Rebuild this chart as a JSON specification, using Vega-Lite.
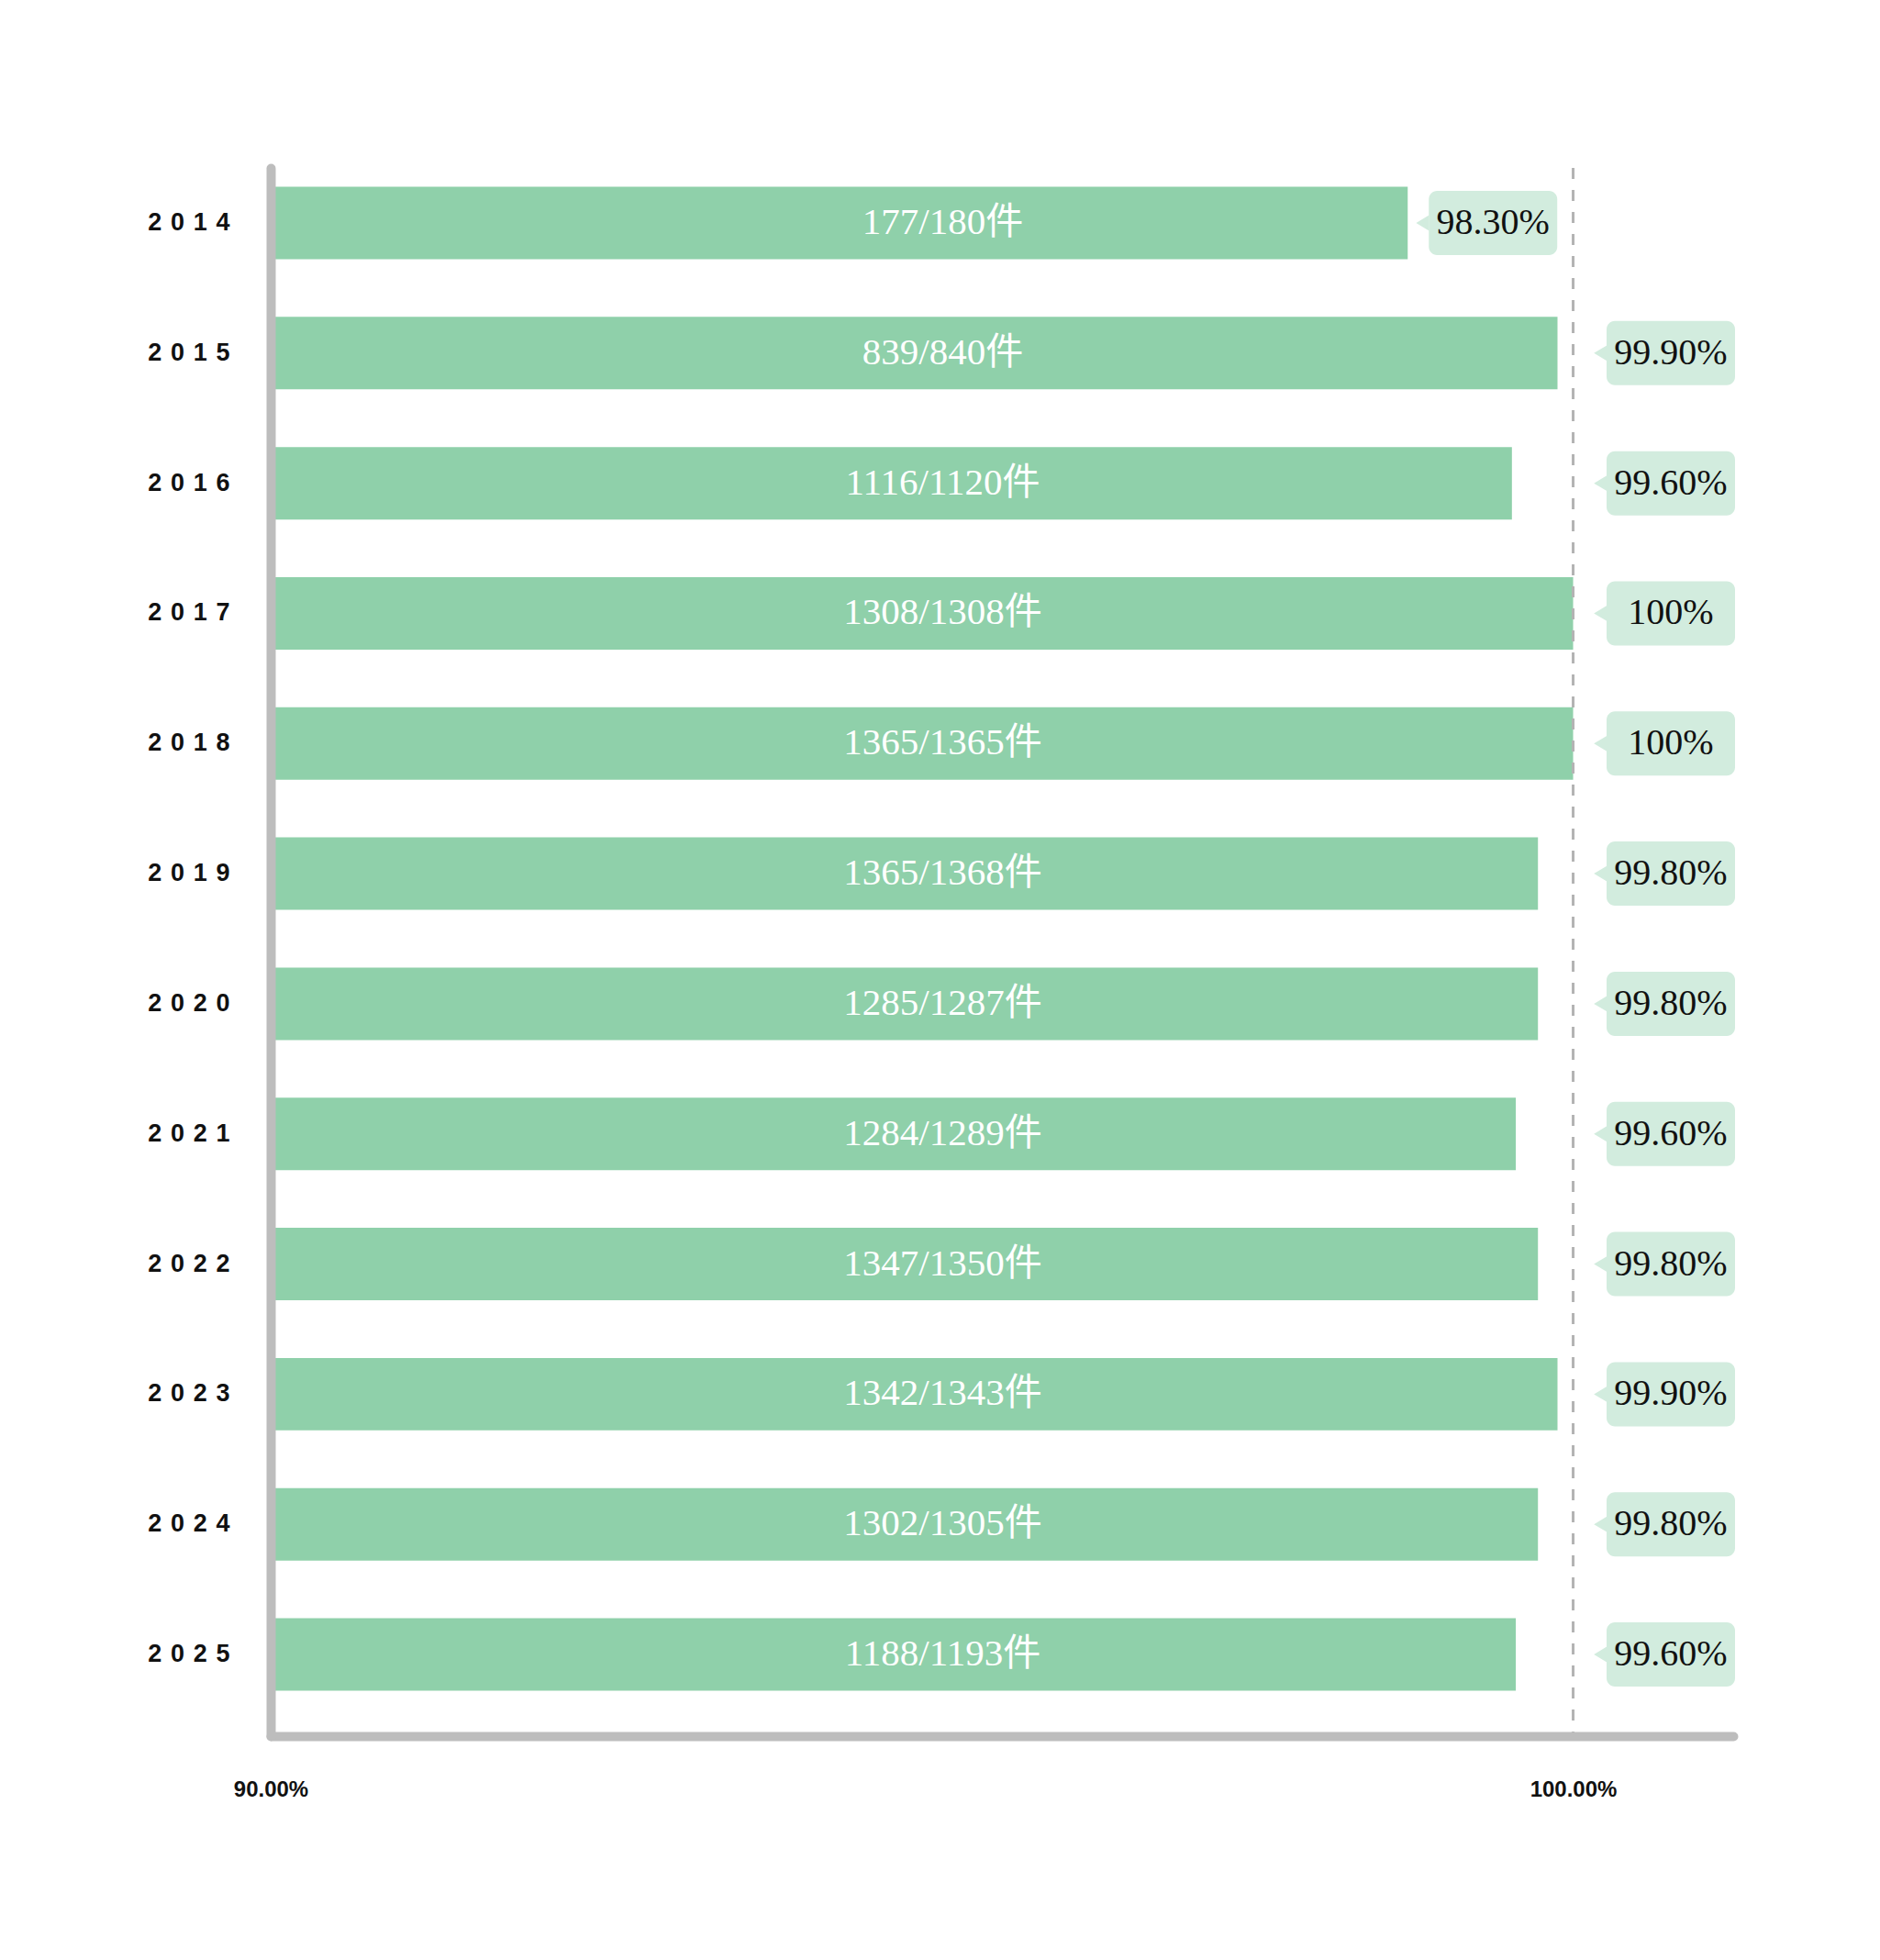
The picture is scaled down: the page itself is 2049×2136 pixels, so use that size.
{
  "$schema": "https://vega.github.io/schema/vega-lite/v6.json",
  "width": 1594,
  "height": 1709,
  "autosize": {"type": "none"},
  "padding": {"left": 295, "top": 183, "right": 160, "bottom": 244},
  "background": "white",
  "config": {"view": {"stroke": null}},
  "data": {
    "values": [
      {"year": "2014", "rate": 98.73, "count": "177/180件", "pct": "98.30%"},
      {"year": "2015", "rate": 99.88, "count": "839/840件", "pct": "99.90%"},
      {"year": "2016", "rate": 99.53, "count": "1116/1120件", "pct": "99.60%"},
      {"year": "2017", "rate": 100, "count": "1308/1308件", "pct": "100%"},
      {"year": "2018", "rate": 100, "count": "1365/1365件", "pct": "100%"},
      {"year": "2019", "rate": 99.73, "count": "1365/1368件", "pct": "99.80%"},
      {"year": "2020", "rate": 99.73, "count": "1285/1287件", "pct": "99.80%"},
      {"year": "2021", "rate": 99.56, "count": "1284/1289件", "pct": "99.60%"},
      {"year": "2022", "rate": 99.73, "count": "1347/1350件", "pct": "99.80%"},
      {"year": "2023", "rate": 99.88, "count": "1342/1343件", "pct": "99.90%"},
      {"year": "2024", "rate": 99.73, "count": "1302/1305件", "pct": "99.80%"},
      {"year": "2025", "rate": 99.56, "count": "1188/1193件", "pct": "99.60%"}
    ]
  },
  "transform": [
    {"calculate": "datum.rate < 99 ? datum.rate + 0.162 : 100.257", "as": "boxStart"},
    {"calculate": "datum.boxStart + 0.986", "as": "boxEnd"},
    {"calculate": "datum.boxStart + 0.493", "as": "boxMid"},
    {"calculate": "datum.boxStart - 0.048", "as": "tipX"}
  ],
  "layer": [
    {
      "mark": {"type": "bar", "color": "#8fd0aa"},
      "encoding": {
        "y": {
          "field": "year",
          "type": "ordinal",
          "title": null,
          "scale": {"paddingInner": 0.443, "paddingOuter": 0.2468, "align": 0.293},
          "axis": {
            "zindex": 1,
            "domainColor": "#bdbdbd",
            "domainWidth": 10,
            "domainCap": "round",
            "ticks": false,
            "labelPadding": 45,
            "labelFont": "Liberation Sans",
            "labelFontWeight": "bold",
            "labelFontSize": 27,
            "labelColor": "#111111",
            "labelExpr": "join(split(datum.label, ''), ' \u200A')"
          }
        },
        "x": {
          "field": "rate",
          "type": "quantitative",
          "title": null,
          "scale": {"domain": [90, 101.229], "nice": false, "zero": false},
          "axis": {
            "zindex": 1,
            "values": [90, 100],
            "labelExpr": "format(datum.value, '.2f') + '%'",
            "grid": false,
            "ticks": false,
            "domainColor": "#bdbdbd",
            "domainWidth": 10,
            "domainCap": "round",
            "labelPadding": 46,
            "labelFlush": false,
            "labelFont": "Liberation Sans",
            "labelFontWeight": "bold",
            "labelFontSize": 24,
            "labelColor": "#111111"
          }
        },
        "x2": {"datum": 90}
      }
    },
    {
      "mark": {"type": "text", "color": "white", "font": "Liberation Serif, Noto Sans CJK SC", "fontSize": 41, "align": "center", "baseline": "middle"},
      "encoding": {
        "y": {"field": "year", "type": "ordinal"},
        "x": {"datum": 95.16},
        "text": {"field": "count"}
      }
    },
    {
      "data": {"values": [{"ref": 100}]},
      "mark": {"type": "rule", "color": "#b3b3b3", "strokeWidth": 3, "strokeDash": [12, 12]},
      "encoding": {
        "x": {"field": "ref", "type": "quantitative"}
      }
    },
    {
      "mark": {"type": "point", "shape": "M-1,0L1,-1.2L1,1.2Z", "filled": true, "size": 196, "color": "#d2ecde", "opacity": 1, "strokeWidth": 0},
      "encoding": {
        "y": {"field": "year", "type": "ordinal"},
        "x": {"field": "tipX", "type": "quantitative"}
      }
    },
    {
      "mark": {"type": "bar", "color": "#d2ecde", "size": 70, "cornerRadius": 9},
      "encoding": {
        "y": {"field": "year", "type": "ordinal"},
        "x": {"field": "boxStart", "type": "quantitative"},
        "x2": {"field": "boxEnd"}
      }
    },
    {
      "mark": {"type": "text", "color": "#111111", "font": "Liberation Serif", "fontSize": 40, "align": "center", "baseline": "middle"},
      "encoding": {
        "y": {"field": "year", "type": "ordinal"},
        "x": {"field": "boxMid", "type": "quantitative"},
        "text": {"field": "pct"}
      }
    }
  ]
}
